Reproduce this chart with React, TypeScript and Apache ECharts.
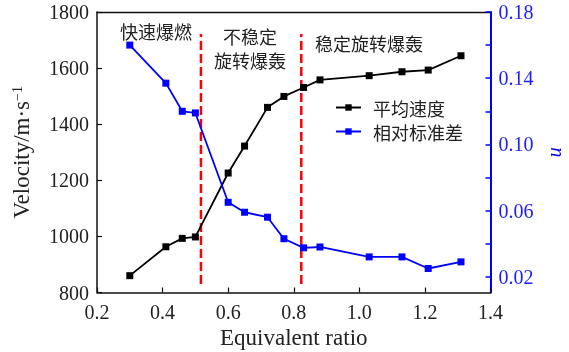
import React, { useEffect, useRef } from "react";
import * as echarts from "echarts";

// Equivalent ratio of each test point
const ratios = [0.3, 0.41, 0.46, 0.5, 0.6, 0.65, 0.72, 0.77, 0.83, 0.88, 1.03, 1.13, 1.21, 1.31];
// Mean propagation velocity, m/s
const velocity = [860, 963, 993, 998, 1226, 1322, 1460, 1499, 1531, 1558, 1573, 1587, 1593, 1644];
// Relative standard deviation u
const relStd = [0.16, 0.137, 0.12, 0.119, 0.065, 0.059, 0.056, 0.043, 0.0375, 0.038, 0.032, 0.032, 0.025, 0.029];

// Regime boundaries (equivalent ratio) and their vertical extent on the velocity axis
const boundaries = [0.517, 0.823];
const boundarySpan = [830, 1722];

const seriesNames = ["平均速度", "相对标准差"];
const rightTicks = [0.02, 0.04, 0.06, 0.08, 0.1, 0.12, 0.14, 0.16, 0.18];
const rightLabels = [0.02, 0.06, 0.1, 0.14, 0.18];

const SERIF = "'Liberation Serif', 'DejaVu Serif', serif";
const CJK = "'Noto Sans CJK SC', sans-serif";
const BLUE = "#0000ff";

export default function App() {
  const ref = useRef<HTMLDivElement>(null);

  useEffect(() => {
    if (!ref.current) return;
    const chart = echarts.init(ref.current, undefined, { renderer: "svg" });

    const boundarySeries = boundaries.map((b, i) => ({
      name: "boundary" + i,
      type: "line",
      xAxisIndex: 0,
      yAxisIndex: 0,
      symbol: "none",
      silent: true,
      data: boundarySpan.map((v) => [b, v]),
      lineStyle: { color: "#ff0000", width: 2.5, type: [9, 4] },
      z: 1,
    }));

    chart.setOption({
      animation: false,
      grid: { left: 97, right: 78.5, top: 12, bottom: 59.5, containLabel: false, outerBoundsMode: "none" },
      legend: {
        data: seriesNames,
        orient: "vertical",
        left: 335,
        top: 98,
        padding: 0,
        itemWidth: 25,
        itemHeight: 8,
        itemGap: 5,
        textStyle: { fontFamily: CJK, fontSize: 18, color: "#222", lineHeight: 19, padding: [0, 0, 0, 7] },
      },
      xAxis: [
        {
          type: "value",
          min: 0.2,
          max: 1.4,
          interval: 0.2,
          name: "Equivalent ratio",
          nameLocation: "middle",
          nameGap: 33,
          nameTextStyle: { fontFamily: SERIF, fontSize: 23, color: "#222" },
          axisLine: { lineStyle: { color: "#111", width: 1.5 } },
          axisTick: { inside: true, length: 5, lineStyle: { color: "#111", width: 1.2 } },
          axisLabel: {
            fontFamily: SERIF,
            fontSize: 20,
            color: "#222",
            margin: 9,
            formatter: (v: number) => v.toFixed(1),
          },
          splitLine: { show: false },
        },
        {
          type: "value",
          position: "top",
          min: 0.2,
          max: 1.4,
          axisLine: { show: true, lineStyle: { color: "#111", width: 1.3 } },
          axisTick: { show: false },
          axisLabel: { show: false },
          splitLine: { show: false },
        },
      ],
      yAxis: [
        {
          type: "value",
          min: 800,
          max: 1800,
          interval: 200,
          name: "{a|Velocity/m·s}{sup|−1}",
          nameLocation: "middle",
          nameGap: 64,
          nameTextStyle: {
            fontFamily: SERIF,
            color: "#222",
            rich: {
              a: { fontFamily: SERIF, fontSize: 23, color: "#222" },
              sup: { fontFamily: SERIF, fontSize: 14, color: "#222", verticalAlign: "top", padding: [0, 0, 9, 0] },
            },
          },
          axisLine: { show: true, lineStyle: { color: "#111", width: 1.5 } },
          axisTick: { show: true, inside: true, length: 5, lineStyle: { color: "#111", width: 1.2 } },
          axisLabel: {
            fontFamily: SERIF,
            fontSize: 20,
            color: "#222",
            margin: 8,
            formatter: (v: number) => String(v),
          },
          splitLine: { show: false },
        },
        {
          type: "value",
          position: "right",
          min: 0.0105,
          max: 0.18,
          name: "u",
          nameLocation: "middle",
          nameGap: 52,
          nameTextStyle: { fontFamily: SERIF, fontStyle: "italic", fontSize: 20, lineHeight: 20, color: BLUE },
          axisLine: { show: true, lineStyle: { color: BLUE, width: 2 } },
          axisTick: {
            show: true,
            inside: true,
            length: 5,
            customValues: rightTicks,
            lineStyle: { color: BLUE, width: 1.5 },
          },
          axisLabel: {
            fontFamily: SERIF,
            fontSize: 20,
            color: "#2020ff",
            margin: 8,
            customValues: rightLabels,
            formatter: (v: number) => v.toFixed(2),
          },
          splitLine: { show: false },
        },
      ],
      series: [
        ...boundarySeries,
        {
          name: seriesNames[0],
          type: "line",
          xAxisIndex: 0,
          yAxisIndex: 0,
          data: ratios.map((r, i) => [r, velocity[i]]),
          symbol: "rect",
          symbolSize: 7,
          itemStyle: { color: "#000" },
          lineStyle: { color: "#000", width: 1.8 },
          z: 3,
        },
        {
          name: seriesNames[1],
          type: "line",
          xAxisIndex: 0,
          yAxisIndex: 1,
          data: ratios.map((r, i) => [r, relStd[i]]),
          symbol: "rect",
          symbolSize: 7,
          itemStyle: { color: BLUE },
          lineStyle: { color: BLUE, width: 1.8 },
          z: 3,
        },
      ],
      graphic: [
        {
          type: "text",
          x: 156,
          y: 31,
          style: { text: "快速爆燃", fontFamily: CJK, fontSize: 18, fill: "#222", align: "center", verticalAlign: "middle" },
        },
        {
          type: "text",
          x: 250,
          y: 48,
          style: {
            text: "不稳定\n旋转爆轰",
            fontFamily: CJK,
            fontSize: 18,
            lineHeight: 24,
            fill: "#222",
            align: "center",
            verticalAlign: "middle",
          },
        },
        {
          type: "text",
          x: 369,
          y: 43,
          style: { text: "稳定旋转爆轰", fontFamily: CJK, fontSize: 18, fill: "#222", align: "center", verticalAlign: "middle" },
        },
      ],
    });

    return () => chart.dispose();
  }, []);

  return <div ref={ref} style={{ position: "fixed", left: 0, top: 0, width: 569, height: 352 }} />;
}
